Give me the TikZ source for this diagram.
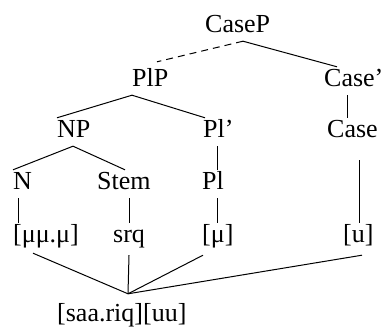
\documentclass[tikz,border=0pt]{standalone}
\usepackage{fontspec}
\setmainfont{Liberation Serif}
\usepackage{tikz}
\usetikzlibrary{positioning}

\tikzset{
  lab/.style={anchor=base west, inner xsep=0pt, inner ysep=3pt,
    text height=17pt, text depth=5pt, font=\fontsize{26}{30}\selectfont},
  branch/.style={line width=1pt},
}

\begin{document}
\begin{tikzpicture}[x=1pt,y=-1pt]
\useasboundingbox (0,0) rectangle (383,328);

% labels, row by row
\node[lab] (casep) at (205,33) {CaseP};
\node[lab] (plp) at (132,87) {PlP};
\node[lab] (casebar) at (324,87) {Case'};
\node[lab] (np) at (57,138) {NP};
\node[lab] (plbar) at (203,138) {Pl'};
\node[lab] (case) at (327,138) {Case};
\node[lab] (n) at (13,190) {N};
\node[lab] (stem) at (97,190) {Stem};
\node[lab] (pl) at (202,190) {Pl};
\node[lab] (mu) at (13,243) {[μμ.μ]};
\node[lab] (srq) at (113,243) {srq};
\node[lab] (mone) at (202,243) {[μ]};
\node[lab] (u) at (343,243) {[u]};
\node[lab] (saa) at (57,322) {[saa.riq][uu]};
\coordinate (join) at ([xshift=71pt,yshift=8pt]saa.north west);

% top of the tree
\draw[branch, dash pattern=on 7pt off 5pt] ([xshift=38pt]casep.south west) -- ([xshift=25pt,yshift=5pt]plp.north west);
\draw[branch] ([xshift=38pt]casep.south west) -- ([xshift=13pt]casebar.north west);
\draw[branch] (plp.south west) -- (np.north west);
\draw[branch] (plp.south west) -- ([xshift=2pt]plbar.north west);
\draw[branch] ([xshift=23pt]casebar.south west) -- ([xshift=20pt]case.north west);

% NP and Pl'
\draw[branch] ([xshift=16pt]np.south west) -- (n.north west);
\draw[branch] ([xshift=16pt]np.south west) -- ([xshift=28pt]stem.north west);
\draw[branch] ([xshift=14pt]plbar.south west) -- ([xshift=15pt]pl.north west);

% down to the skeleton
\draw[branch] ([xshift=5pt]n.south west) -- ([xshift=5pt]mu.north west);
\draw[branch] ([xshift=32pt]stem.south west) -- ([xshift=16pt]srq.north west);
\draw[branch] ([xshift=15pt]pl.south west) -- ([xshift=15pt]mone.north west);
\draw[branch] ([xshift=32pt,yshift=-14pt]case.south west) -- ([xshift=16pt]u.north west);

% association to the output
\draw[branch] ([xshift=20pt,yshift=-2pt]mu.south west) -- (join);
\draw[branch] ([xshift=16pt,yshift=-4pt]srq.south west) -- (join);
\draw[branch] ([xshift=1pt,yshift=-4pt]mone.south west) -- (join);
\draw[branch] ([xshift=19pt,yshift=-4pt]u.south west) -- (join);

\end{tikzpicture}
\end{document}
